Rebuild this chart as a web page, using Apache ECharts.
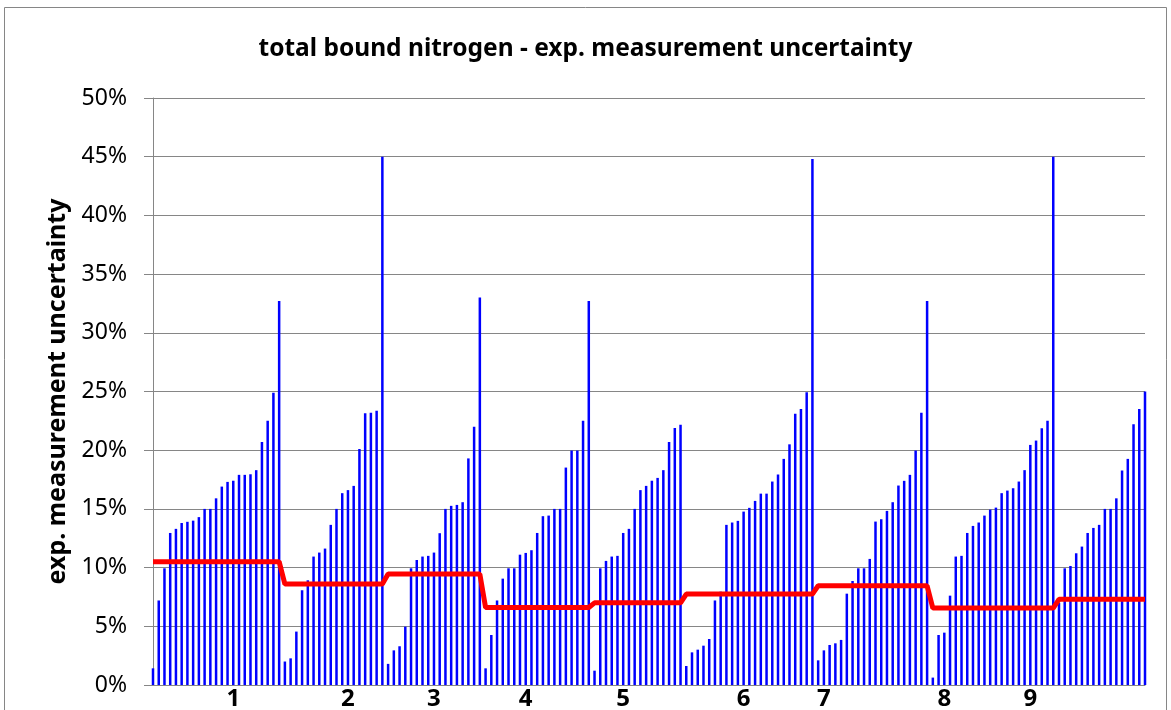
<!DOCTYPE html>
<html>
<head>
<meta charset="utf-8">
<script src="https://cdn.jsdelivr.net/npm/echarts@6/dist/echarts.min.js"></script>
<style>
html, body { margin: 0; padding: 0; background: #fff; }
#main { width: 1171px; height: 710px; }
</style>
</head>
<body>
<div id="main"></div>
<script>
// uncertainty of each sample, one array per group (percent)
var group1 = [1.42, 7.2, 9.94, 12.95, 13.3, 13.8, 13.9, 14.0, 14.3, 15.0, 15.0, 15.9, 16.9, 17.3, 17.4, 17.9, 17.9, 17.95, 18.3, 20.7, 22.5, 24.9, 32.7];
var group2 = [2.0, 2.27, 4.55, 8.07, 8.92, 10.94, 11.28, 11.62, 13.64, 15.0, 16.34, 16.6, 16.96, 20.1, 23.15, 23.2, 23.35, 45.0];
var group3 = [1.8, 2.95, 3.3, 4.97, 9.94, 10.65, 10.94, 11.0, 11.28, 12.93, 15.0, 15.26, 15.34, 15.57, 19.3, 22.0, 33.0];
var group4 = [1.42, 4.26, 7.2, 9.06, 9.94, 9.94, 11.1, 11.25, 11.48, 12.95, 14.38, 14.43, 15.0, 15.0, 18.52, 19.97, 19.97, 22.5, 32.7];
var group5 = [1.22, 9.94, 10.57, 10.94, 11.0, 12.95, 13.3, 15.0, 16.6, 16.96, 17.4, 17.64, 18.3, 20.7, 21.9, 22.16];
var group6 = [1.62, 2.78, 3.01, 3.35, 3.92, 7.2, 7.95, 13.64, 13.84, 13.98, 14.77, 15.09, 15.68, 16.3, 16.3, 17.33, 17.93, 19.26, 20.5, 23.1, 23.52, 24.94, 44.8];
var group7 = [2.1, 2.95, 3.41, 3.55, 3.84, 7.78, 8.86, 9.94, 9.94, 10.74, 13.92, 14.12, 14.83, 15.57, 16.99, 17.39, 17.9, 19.97, 23.18, 32.7];
var group8 = [0.63, 4.26, 4.46, 7.61, 10.94, 11.0, 12.95, 13.55, 13.84, 14.43, 14.94, 15.11, 16.34, 16.56, 16.76, 17.33, 18.3, 20.45, 20.82, 21.88, 22.5, 45.0];
var group9 = [7.0, 9.94, 10.14, 11.22, 11.79, 12.95, 13.38, 13.64, 15.0, 15.0, 15.9, 18.27, 19.26, 22.2, 23.52, 25.0];

// group level (red line), one value per group
var groupLevels = [10.5, 8.6, 9.45, 6.6, 7.0, 7.75, 8.45, 6.55, 7.3];

// x axis labels and the sample index they sit under
var groupLabels = ['1', '2', '3', '4', '5', '6', '7', '8', '9'];
var labelIndex = [14, 34, 49, 65, 82, 103, 117, 138, 153];

var groups = [group1, group2, group3, group4, group5, group6, group7, group8, group9];

var samples = [];
var levels = [];
groups.forEach(function(g, i) {
	g.forEach(function(v) {
		samples.push(v);
		levels.push(groupLevels[i]);
	});
});

var categories = samples.map(function() { return ''; });
labelIndex.forEach(function(idx, i) {
	categories[idx] = groupLabels[i];
});

var gray = '#868686';
var font = '"Noto Sans", "Open Sans", sans-serif';

var option = {
	backgroundColor: '#fff',
	animation: false,
	title: {
		text: 'total bound nitrogen - exp. measurement uncertainty',
		left: 'center',
		top: 32,
		textStyle: {
			fontFamily: font,
			fontSize: 24.5,
			fontWeight: 'bold',
			color: '#000'
		}
	},
	graphic: [{
		type: 'rect',
		shape: { x: 4.5, y: 7.5, width: 1162, height: 720 },
		style: { fill: 'none', stroke: gray, lineWidth: 1 },
		silent: true
	}],
	grid: {
		left: 153,
		right: 26,
		top: 98,
		bottom: 25,
		containLabel: false,
		outerBoundsMode: 'none'
	},
	xAxis: {
		type: 'category',
		data: categories,
		boundaryGap: false,
		axisLine: { show: true, lineStyle: { color: gray, width: 1 } },
		axisTick: { show: false },
		splitLine: { show: false },
		axisLabel: {
			interval: 0,
			hideOverlap: false,
			margin: 2,
			fontFamily: font,
			fontSize: 24,
			fontWeight: 'bold',
			color: '#000'
		}
	},
	yAxis: {
		type: 'value',
		min: 0,
		max: 50,
		interval: 5,
		name: 'exp. measurement uncertainty',
		nameLocation: 'middle',
		nameGap: 79,
		nameRotate: 90,
		nameTextStyle: {
			fontFamily: font,
			fontSize: 25,
			fontWeight: 'bold',
			color: '#000'
		},
		axisLine: { show: true, lineStyle: { color: gray, width: 1 } },
		axisTick: { show: true, inside: false, length: 9, lineStyle: { color: gray } },
		splitLine: { show: true, lineStyle: { color: gray, width: 1 } },
		axisLabel: {
			formatter: '{value}%',
			margin: 26,
			fontFamily: font,
			fontSize: 23,
			color: '#000'
		}
	},
	series: [{
		name: 'samples',
		type: 'bar',
		data: samples,
		barWidth: 2.5,
		itemStyle: { color: '#0000ff' },
		silent: true
	}, {
		name: 'group level',
		type: 'line',
		data: levels,
		symbol: 'none',
		lineStyle: { color: '#ff0000', width: 5 },
		silent: true
	}]
};

var chart = echarts.init(document.getElementById('main'));
chart.setOption(option);
</script>
</body>
</html>
